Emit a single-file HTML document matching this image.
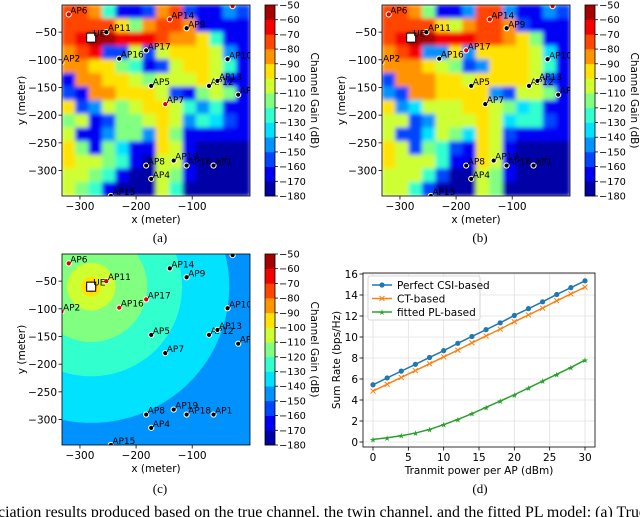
<!DOCTYPE html>
<html><head><meta charset="utf-8">
<style>
html,body{margin:0;padding:0;background:#fff;}
svg{display:block;font-family:"DejaVu Sans","Liberation Sans",sans-serif;}
.cap{font-family:"Liberation Serif",serif;font-size:13px;}
</style></head>
<body>
<svg id="fig" width="640" height="517" viewBox="0 0 640 517" xmlns="http://www.w3.org/2000/svg">
<defs>
<clipPath id="clipA"><rect x="62" y="5" width="188" height="191"/></clipPath>
<clipPath id="clipB"><rect x="382" y="5" width="188" height="191"/></clipPath>
<clipPath id="clipC"><rect x="62" y="254" width="188" height="191"/></clipPath>
<filter id="soft" x="-5%" y="-5%" width="110%" height="110%"><feGaussianBlur stdDeviation="2.2"/></filter>
</defs>
<text class="cap" x="160" y="242" text-anchor="middle">(a)</text>
<text class="cap" x="480" y="242" text-anchor="middle">(b)</text>
<text class="cap" x="160" y="493" text-anchor="middle">(c)</text>
<text class="cap" x="480" y="493" text-anchor="middle">(d)</text>
<text class="cap" x="-2" y="517" style="font-size:15.5px" textLength="648" lengthAdjust="spacingAndGlyphs">ciation results produced based on the true channel, the twin channel, and the fitted PL model: (a) True</text>
</svg>
<script>
// ---------- data ----------
const gridA = [
[-80,-80,-90,-130,-170,-170,-160,-85,-80,-160,-170,-170,-150,-160],
[-80,-80,-75,-80,-100,-120,-90,-80,-80,-90,-170,-170,-170,-170],
[-80,-65,-55,-60,-65,-70,-70,-80,-85,-90,-100,-130,-170,-170],
[-90,-80,-70,-160,-160,-110,-160,-110,-100,-95,-95,-110,-150,-170],
[-90,-85,-95,-100,-120,-130,-170,-160,-110,-100,-100,-110,-130,-170],
[-170,-90,-85,-95,-100,-110,-120,-110,-110,-110,-100,-110,-170,-170],
[-160,-170,-90,-85,-100,-100,-100,-110,-160,-170,-120,-110,-120,-170],
[-100,-160,-150,-110,-120,-110,-100,-100,-110,-130,-150,-130,-170,-170],
[-120,-110,-170,-160,-120,-120,-110,-100,-110,-150,-130,-140,-160,-170],
[-110,-170,-170,-150,-120,-120,-150,-100,-120,-170,-170,-170,-170,-170],
[-100,-120,-170,-120,-140,-170,-170,-100,-110,-170,-180,-180,-180,-180],
[-100,-110,-110,-120,-130,-170,-180,-110,-110,-170,-180,-180,-180,-180],
[-110,-110,-120,-130,-170,-180,-180,-110,-120,-170,-180,-180,-180,-180],
[-110,-120,-130,-170,-180,-180,-180,-110,-130,-180,-180,-180,-180,-180]];
const gridB = [
[-75,-80,-90,-120,-170,-170,-150,-80,-80,-150,-170,-170,-150,-160],
[-75,-75,-75,-80,-95,-110,-85,-80,-80,-90,-160,-170,-170,-170],
[-75,-65,-55,-60,-65,-70,-70,-75,-80,-90,-100,-120,-170,-170],
[-90,-80,-70,-150,-150,-100,-150,-100,-100,-95,-95,-110,-140,-170],
[-90,-85,-90,-100,-110,-120,-160,-150,-100,-100,-100,-110,-130,-170],
[-160,-90,-85,-90,-100,-100,-110,-100,-100,-100,-100,-110,-160,-170],
[-150,-160,-90,-85,-100,-100,-100,-100,-150,-160,-110,-110,-120,-170],
[-100,-150,-140,-110,-110,-110,-100,-100,-110,-120,-140,-130,-170,-170],
[-110,-110,-160,-150,-110,-110,-110,-100,-110,-140,-130,-130,-160,-170],
[-110,-160,-160,-140,-110,-120,-140,-100,-110,-160,-170,-170,-170,-170],
[-100,-110,-160,-120,-130,-160,-170,-100,-110,-170,-180,-180,-180,-180],
[-100,-110,-110,-110,-130,-170,-170,-100,-110,-170,-180,-180,-180,-180],
[-110,-110,-110,-130,-160,-180,-180,-110,-120,-170,-180,-180,-180,-180],
[-110,-110,-130,-160,-180,-180,-180,-110,-120,-180,-180,-180,-180,-180]];
const ringRadii = [300,246,162,100,43,18,10,5];
const ringGains = [-145,-135,-125,-115,-105,-95,-85,-75];
const apNames = ["AP0","AP1","AP2","AP3","AP4","AP5","AP6","AP7","AP8","AP9","AP10","AP11","AP12","AP13","AP14","AP15","AP16","AP17","AP18","AP19"];
const apX = [-18,-62,-333,-28,-173,-173,-320,-148,-182,-110,-37,-253,-70,-55,-140,-245,-230,-182,-110,-133];
const apY = [-163,-291,-105,-3,-315,-147,-18,-180,-291,-43,-99,-50,-147,-138,-27,-346,-98,-83,-291,-282];
const redA = ["AP6","AP14","AP3","AP2","AP7"];
const redB = ["AP6","AP14","AP3","AP2","AP17"];
const redC = ["AP6","AP11","AP16","AP17","AP2"];
const ueX = -280, ueY = -60;
const xTicks = [-300,-200,-100];
const yTicks = [-50,-100,-150,-200,-250,-300];
const cbTicks = [-50,-60,-70,-80,-90,-100,-110,-120,-130,-140,-150,-160,-170,-180];
const powers = [0,2,4,6,8,10,12,14,16,18,20,22,24,26,28,30];
const perfectCSI = [5.45,6.1,6.75,7.4,8.05,8.7,9.4,10.05,10.7,11.35,12.05,12.7,13.35,14.05,14.7,15.35];
const ctBased = [4.85,5.5,6.15,6.8,7.45,8.1,8.75,9.45,10.1,10.75,11.45,12.1,12.75,13.45,14.1,14.75];
const plBased = [0.25,0.4,0.6,0.85,1.2,1.65,2.15,2.7,3.3,3.9,4.5,5.15,5.8,6.45,7.1,7.8];
const dXTicks = [0,5,10,15,20,25,30];
const dYTicks = [0,2,4,6,8,10,12,14,16];

// ---------- helpers ----------
const NS = "http://www.w3.org/2000/svg";
const svg = document.getElementById("fig");
function mk(tag, attrs, parent){
  const e = document.createElementNS(NS, tag);
  for (const k in attrs) e.setAttribute(k, attrs[k]);
  (parent||svg).appendChild(e);
  return e;
}
function clamp(v){return Math.max(0,Math.min(1,v));}
function jet(g){
  let i = Math.floor((g + 180)/10); if(i>12)i=12; if(i<0)i=0;
  const t = (i+0.5)/13;
  const r = clamp(1.5-Math.abs(4*t-3)), gg = clamp(1.5-Math.abs(4*t-2)), b = clamp(1.5-Math.abs(4*t-1));
  return `rgb(${Math.round(r*255)},${Math.round(gg*255)},${Math.round(b*255)})`;
}
const X0=-332, X1=3, Y0=-1, Y1=-346;

function panel(ox, oy, kind, grid, reds, clip, tag){
  const W=188, H=191;
  const px = x => ox + (x - X0)/(X1-X0)*W;
  const py = y => oy + (Y0 - y)/(Y0-Y1)*H;
  const outer = mk("g",{"clip-path":`url(#${clip})`});
  const g = mk("g",{},outer);
  
  
  if(kind==="grid"){
    g.setAttribute("filter","url(#soft)");
    const rows=grid.length, cols=grid[0].length;
    const cw=W/cols, ch=H/rows;
    for(let r=0;r<rows;r++)for(let c=0;c<cols;c++){
      const cell = mk("rect",{x:ox+c*cw-0.3,y:oy+r*ch-0.3,width:cw+0.6,height:ch+0.6,fill:jet(grid[r][c])},g);
      
      
    }
  } else {
    mk("rect",{x:ox,y:oy,width:W,height:H,fill:jet(-145)},g);
    const sx = W/(X1-X0), sy = H/(Y0-Y1);
    ringRadii.forEach((rr,i)=>{
      const el = mk("ellipse",{cx:px(ueX),cy:py(ueY),rx:rr*sx,ry:rr*sy,fill:jet(ringGains[i])},g);
      
      
    });
  }
  apNames.forEach((n,i)=>{
    const cx=px(apX[i]), cy=py(apY[i]);
    const d = mk("circle",{cx:cx,cy:cy,r:2.6,fill:reds.includes(n)?"#e00000":"#000",stroke:"#fff","stroke-width":1},outer);
    
    
    const t = mk("text",{x:cx+1.5,y:cy-1,"font-size":"9",fill:"#000"},outer);
    t.textContent=n;
    
    
  });
  const ue = mk("rect",{x:px(ueX)-4.5,y:py(ueY)-4.5,width:9,height:9,fill:"#fff",stroke:"#000","stroke-width":1},outer);
  
  
  const ut = mk("text",{x:px(ueX)+2,y:py(ueY)-1,"font-size":"9"},outer);
  ut.textContent="UE";
  
  
  const fr = mk("rect",{x:ox,y:oy,width:W,height:H,fill:"none",stroke:"#000","stroke-width":0.8});
  
  
  xTicks.forEach(v=>{
    mk("line",{x1:px(v),x2:px(v),y1:oy+H,y2:oy+H+3.5,stroke:"#000","stroke-width":0.8});
    const t=mk("text",{x:px(v),y:oy+H+14,"font-size":"10.5","text-anchor":"middle"});
    t.textContent=(v<0?"\u2212":"")+Math.abs(v);
    
    
  });
  yTicks.forEach(v=>{
    mk("line",{x1:ox-3.5,x2:ox,y1:py(v),y2:py(v),stroke:"#000","stroke-width":0.8});
    const t=mk("text",{x:ox-5,y:py(v)+4,"font-size":"10.5","text-anchor":"end"});
    t.textContent=(v<0?"\u2212":"")+Math.abs(v);
    
    
  });
  const xl=mk("text",{x:ox+W/2,y:oy+H+27,"font-size":"10.5","text-anchor":"middle"});
  xl.textContent="x (meter)";
  
  
  const yl=mk("text",{x:0,y:0,"font-size":"10.5","text-anchor":"middle",transform:`translate(${ox-37},${oy+H/2}) rotate(-90)`});
  yl.textContent="y (meter)";
  
  
  const cbx=ox+203, cbw=10;
  const cy = v => oy + (-50 - v)/130*H;
  for(let i=0;i<13;i++){
    const lo=-180+i*10;
    const s=mk("rect",{x:cbx,y:cy(lo+10),width:cbw,height:H/13+0.3,fill:jet(lo+5)});
    
    
  }
  mk("rect",{x:cbx,y:oy,width:cbw,height:H,fill:"none",stroke:"#000","stroke-width":0.8});
  cbTicks.forEach(v=>{
    mk("line",{x1:cbx+cbw,x2:cbx+cbw+3,y1:cy(v),y2:cy(v),stroke:"#000","stroke-width":0.8});
    const t=mk("text",{x:cbx+cbw+4,y:cy(v)+3.5,"font-size":"9.8"});
    t.textContent="\u2212"+Math.abs(v);
    
    
  });
  const cl=mk("text",{x:0,y:0,"font-size":"10.5","text-anchor":"middle",transform:`translate(${cbx+46},${oy+H/2}) rotate(90)`});
  cl.textContent="Channel Gain (dB)";
  
  
}
panel(62,5,"grid",gridA,redA,"clipA","a");
panel(382,5,"grid",gridB,redB,"clipB","b");
panel(62,254,"ring",null,redC,"clipC","c");

// ---------- panel d ----------
(function(){
  const L=363,R=595,T=273,B=447;
  const x = v => 373 + v/30*(585-373);
  const y = v => 442 - v/16*(442-274);
  mk("rect",{x:L,y:T,width:R-L,height:B-T,fill:"#fff"});
  dXTicks.forEach(v=>{
    mk("line",{x1:x(v),x2:x(v),y1:T,y2:B,stroke:"#e0e0e0","stroke-width":0.8});
    mk("line",{x1:x(v),x2:x(v),y1:B,y2:B+3.5,stroke:"#000","stroke-width":0.8});
    const t=mk("text",{x:x(v),y:B+14,"font-size":"10.5","text-anchor":"middle"});
    t.textContent=v;
    
    
  });
  dYTicks.forEach(v=>{
    mk("line",{x1:L,x2:R,y1:y(v),y2:y(v),stroke:"#e0e0e0","stroke-width":0.8});
    mk("line",{x1:L-3.5,x2:L,y1:y(v),y2:y(v),stroke:"#000","stroke-width":0.8});
    const t=mk("text",{x:L-5,y:y(v)+4,"font-size":"10.5","text-anchor":"end"});
    t.textContent=v;
    
    
  });
  const series=[[perfectCSI,"#1f77b4","dot","Perfect CSI-based"],[ctBased,"#ff7f0e","x","CT-based"],[plBased,"#2ca02c","star","fitted PL-based"]];
  function marker(kind,cx,cy,col,parent){
    if(kind==="dot") return mk("circle",{cx:cx,cy:cy,r:2.6,fill:col},parent);
    if(kind==="x") return mk("path",{d:`M${cx-2.5} ${cy-2.5}L${cx+2.5} ${cy+2.5}M${cx-2.5} ${cy+2.5}L${cx+2.5} ${cy-2.5}`,stroke:col,"stroke-width":1},parent);
    return mk("text",{x:cx,y:cy+3,"font-size":"8","text-anchor":"middle",fill:col},parent);
  }
  series.forEach(([vals,col,mkind,name])=>{
    const g=mk("g",{});
    
    
    const pts=powers.map((p,i)=>x(p)+","+y(vals[i])).join(" ");
    mk("polyline",{points:pts,fill:"none",stroke:col,"stroke-width":1.5},g);
    powers.forEach((p,i)=>{
      const m=marker(mkind,x(p),y(vals[i]),col,g);
      if(mkind==="star") m.textContent="\u2605";
      
      
    });
  });
  mk("rect",{x:L,y:T,width:R-L,height:B-T,fill:"none",stroke:"#000","stroke-width":0.8});
  const lg=mk("g",{});
  
  
  mk("rect",{x:368,y:276,width:112,height:44,fill:"#fff","fill-opacity":0.85,stroke:"#ccc","stroke-width":0.8,rx:2},lg);
  series.forEach(([vals,col,mkind,name],i)=>{
    const yy=285+i*13.5;
    const e=mk("g",{},lg);
    
    
    mk("line",{x1:372,x2:392,y1:yy,y2:yy,stroke:col,"stroke-width":1.5},e);
    const m=marker(mkind,382,yy,col,e);
    if(mkind==="star") m.textContent="\u2605";
    const t=mk("text",{x:397,y:yy+4,"font-size":"10.5"},e);
    t.textContent=name;
  });
  const xl=mk("text",{x:(L+R)/2,y:B+27,"font-size":"10.5","text-anchor":"middle"});
  xl.textContent="Tranmit power per AP (dBm)";
  
  
  const yl=mk("text",{x:0,y:0,"font-size":"10.5","text-anchor":"middle",transform:`translate(340,${(T+B)/2}) rotate(-90)`});
  yl.textContent="Sum Rate (bps/Hz)";
  
  
})();
</script>
</body></html>
